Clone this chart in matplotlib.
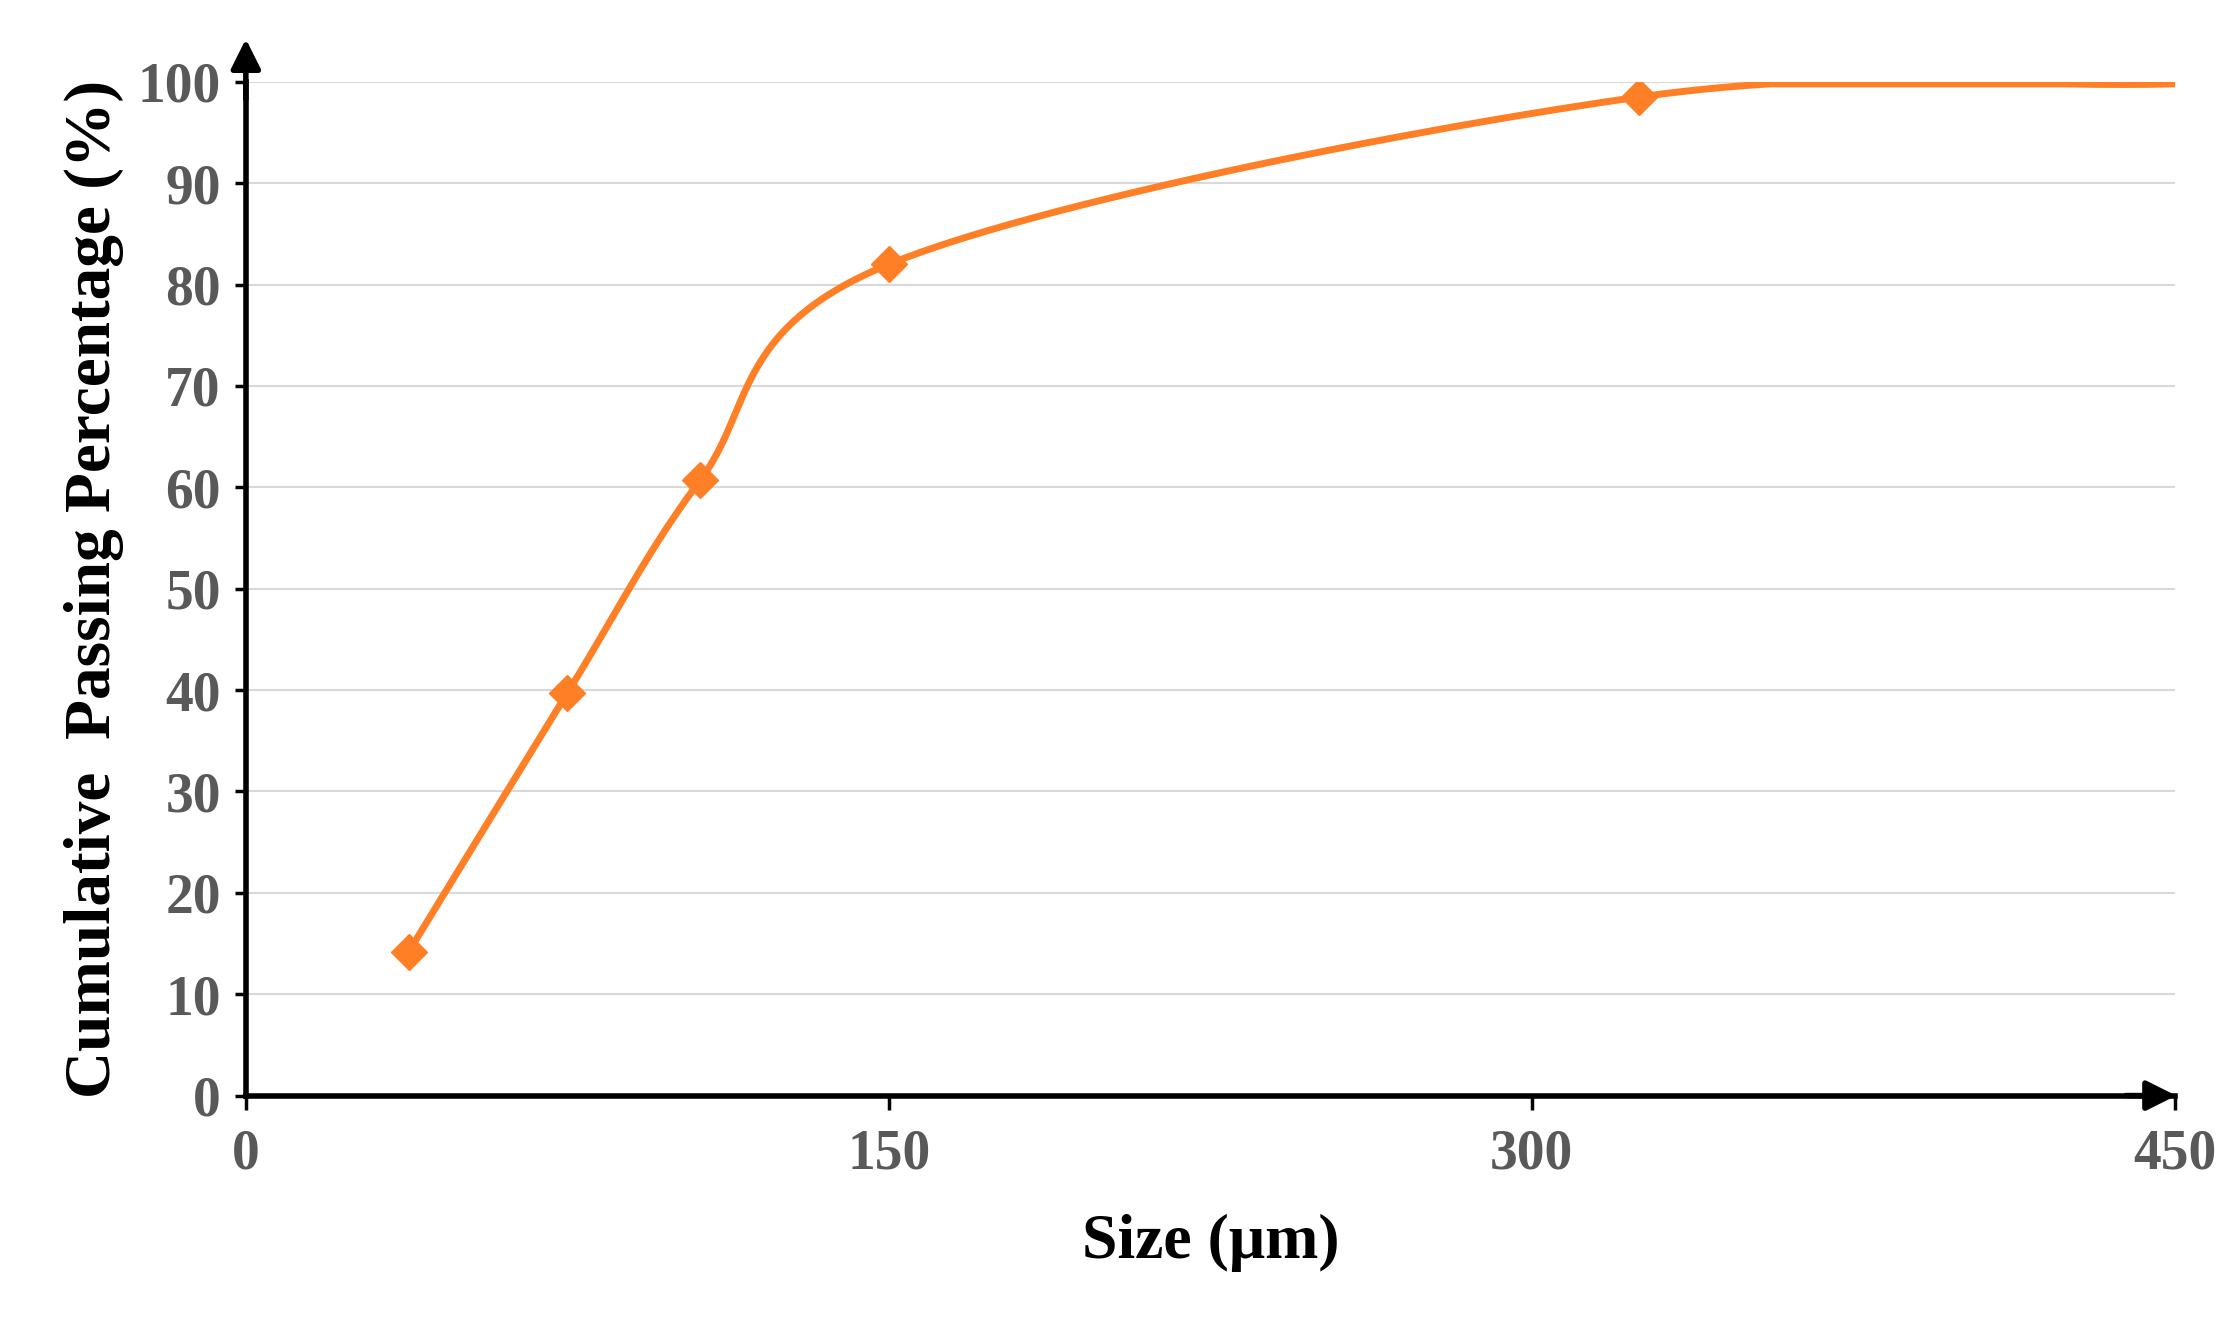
import numpy as np
import matplotlib
matplotlib.use("Agg")
import matplotlib.pyplot as plt

size_um = [38, 75, 106, 150, 325, 450]
passing = [14.2, 39.7, 60.7, 82.0, 98.5, 99.8]
marker_count = 5
xticks = [0, 150, 300, 450]
yticks = list(range(0, 101, 10))

def catmull(x, y, n=60):
    x = np.asarray(x, float); y = np.asarray(y, float)
    P = np.column_stack([x, y])
    P = np.vstack([2*P[0]-P[1], P, 2*P[-1]-P[-2]])
    out = []
    for i in range(1, len(P)-2):
        p0, p1, p2, p3 = P[i-1], P[i], P[i+1], P[i+2]
        t = np.linspace(0, 1, n)[:, None]
        seg = 0.5*((2*p1) + (-p0+p2)*t + (2*p0-5*p1+4*p2-p3)*t**2 + (-p0+3*p1-3*p2+p3)*t**3)
        out.append(seg)
    S = np.vstack(out)
    return S[:, 0], S[:, 1]

plt.rcParams['font.family'] = ['Liberation Serif', 'DejaVu Serif']
fig = plt.figure(figsize=(22.35, 13.2), dpi=100)
ax = fig.add_axes([0.110, 0.170, 0.863, 0.768])
ax.set_xlim(0, 450)
ax.set_ylim(0, 100)

for yv in yticks[1:]:
    ax.axhline(yv, color='#d9d9d9', lw=1.5, zorder=0)

sx, sy = catmull(size_um, passing)
sy = np.minimum(sy, passing[-1])
color = '#ff7f27'
ax.plot(sx, sy, color=color, lw=5, zorder=3)
ax.plot(size_um[:marker_count], passing[:marker_count], 'D', color=color, ms=18, zorder=4)

for s in ['top', 'right']:
    ax.spines[s].set_visible(False)
for s in ['left', 'bottom']:
    ax.spines[s].set_linewidth(4)
ax.annotate('', xy=(0, 104.5), xytext=(0, 98), xycoords='data',
            arrowprops=dict(arrowstyle='-|>,head_width=0.9,head_length=1.8', color='black', lw=4),
            annotation_clip=False)
ax.annotate('', xy=(451, 0), xytext=(438, 0), xycoords='data',
            arrowprops=dict(arrowstyle='-|>,head_width=0.9,head_length=1.8', color='black', lw=4),
            annotation_clip=False)

ax.set_xticks(xticks)
ax.set_yticks(yticks)
ax.tick_params(axis='both', length=10, width=2.5, labelsize=40, colors='black', labelcolor='#595959')
ax.tick_params(axis='y', pad=10, length=8)
ax.tick_params(axis='x', pad=14)
for lab in ax.get_xticklabels() + ax.get_yticklabels():
    lab.set_fontweight('bold')

ax.set_xlabel('Size (μm)', fontsize=46, fontweight='bold', labelpad=24)
ax.set_ylabel('Cumulative  Passing Percentage (%)', fontsize=47, fontweight='bold', labelpad=10)

fig.savefig('out.png', dpi=100)
